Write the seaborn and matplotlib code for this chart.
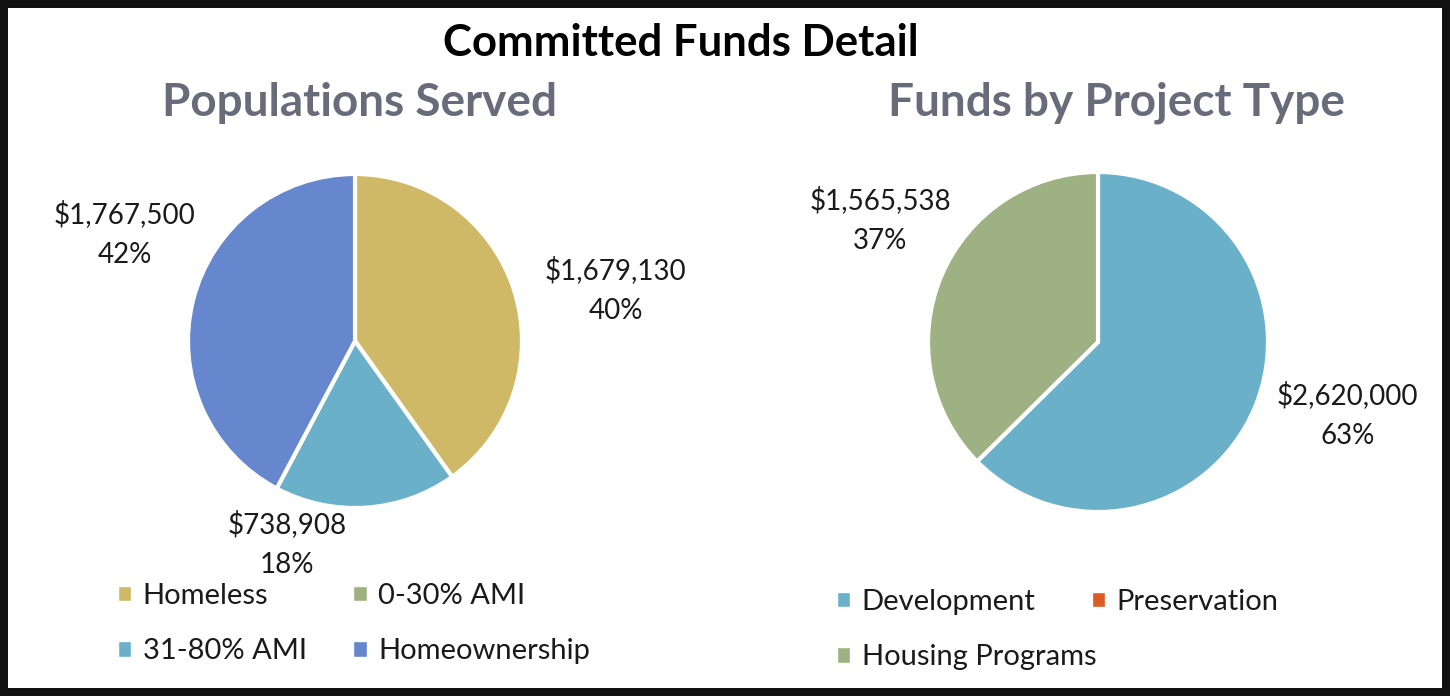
import matplotlib.pyplot as plt
import seaborn as sns
from matplotlib.patches import Patch, Rectangle
import numpy as np

sns.set_theme(style="white")
plt.rcParams["font.family"] = ["Lato", "DejaVu Sans"]

pop_labels = ["Homeless", "0-30% AMI", "31-80% AMI", "Homeownership"]
pop_values = [1679130, 0, 738908, 1767500]
pop_colors = ["#CFB967", "#9DB183", "#6BB0C9", "#6686CE"]

type_labels = ["Development", "Preservation", "Housing Programs"]
type_values = [2620000, 0, 1565538]
type_colors = ["#6BB0C9", "#DC5A24", "#9DB183"]

W, H = 1450, 696
fig = plt.figure(figsize=(W / 100, H / 100), dpi=100)


def pie_axes(cx, cy, r, lim=1.6):
    half = r * lim
    return fig.add_axes([(cx - half) / W, (H - cy - half) / H, 2 * half / W, 2 * half / H])


def draw_pie(ax, values, colors, dist, shift):
    vals = [v for v in values if v > 0]
    cols = [c for v, c in zip(values, colors) if v > 0]
    total = sum(vals)
    wedges, _ = ax.pie(vals, colors=cols, startangle=90, counterclock=False,
                       wedgeprops=dict(edgecolor="white", linewidth=3))
    # Excel-style outside data labels: value and percentage
    for w, v, d, s in zip(wedges, vals, dist, shift):
        ang = np.deg2rad((w.theta1 + w.theta2) / 2 + s)
        ax.text(d * np.cos(ang), d * np.sin(ang),
                f"${v:,}\n{round(100 * v / total)}%",
                ha="center", va="center", fontsize=20, color="#1a1a1a",
                linespacing=1.65, clip_on=False)
    ax.set_xlim(-1.6, 1.6)
    ax.set_ylim(-1.6, 1.6)
    ax.set_aspect("equal")
    ax.axis("off")


ax1 = pie_axes(355, 341, 167)
draw_pie(ax1, pop_values, pop_colors, [1.59, 1.28, 1.52], [-6.7, -22.3, -10.9])
ax2 = pie_axes(1098, 342, 170)
draw_pie(ax2, type_values, type_colors, [1.53, 1.47], [6.3, -6.6])

fig.text(681 / W, 1 - 43 / H, "Committed Funds Detail", ha="center", va="center",
         fontsize=31.5, fontweight="bold", color="black")
fig.text(360 / W, 1 - 103 / H, "Populations Served", ha="center", va="center",
         fontsize=33, fontweight="bold", color="#686B7A")
fig.text(1116 / W, 1 - 103 / H, "Funds by Project Type", ha="center", va="center",
         fontsize=33, fontweight="bold", color="#686B7A")

leg_kw = dict(ncols=2, loc="upper left", frameon=False, fontsize=21,
              handlelength=0.45, handleheight=0.45, handletextpad=0.4,
              labelspacing=1.0, borderpad=0, borderaxespad=0,
              labelcolor="#1a1a1a")

# legends fill column-first, so reorder to read row by row
h1 = [Patch(facecolor=c, label=l) for l, c in zip(pop_labels, pop_colors)]
h1 = [h1[0], h1[2], h1[1], h1[3]]
fig.legend(handles=h1, bbox_to_anchor=(118 / W, 1 - 583 / H), columnspacing=1.6, **leg_kw)

h2 = [Patch(facecolor=c, label=l) for l, c in zip(type_labels, type_colors)]
h2 = [h2[0], h2[2], h2[1]]
fig.legend(handles=h2, bbox_to_anchor=(837 / W, 1 - 589 / H), columnspacing=-0.15, **leg_kw)

fig.patches.append(Rectangle((0, 0), 1, 1, transform=fig.transFigure, fill=False,
                             edgecolor="#111111", linewidth=11.5, zorder=10))

fig.savefig("out.png", dpi=100)
